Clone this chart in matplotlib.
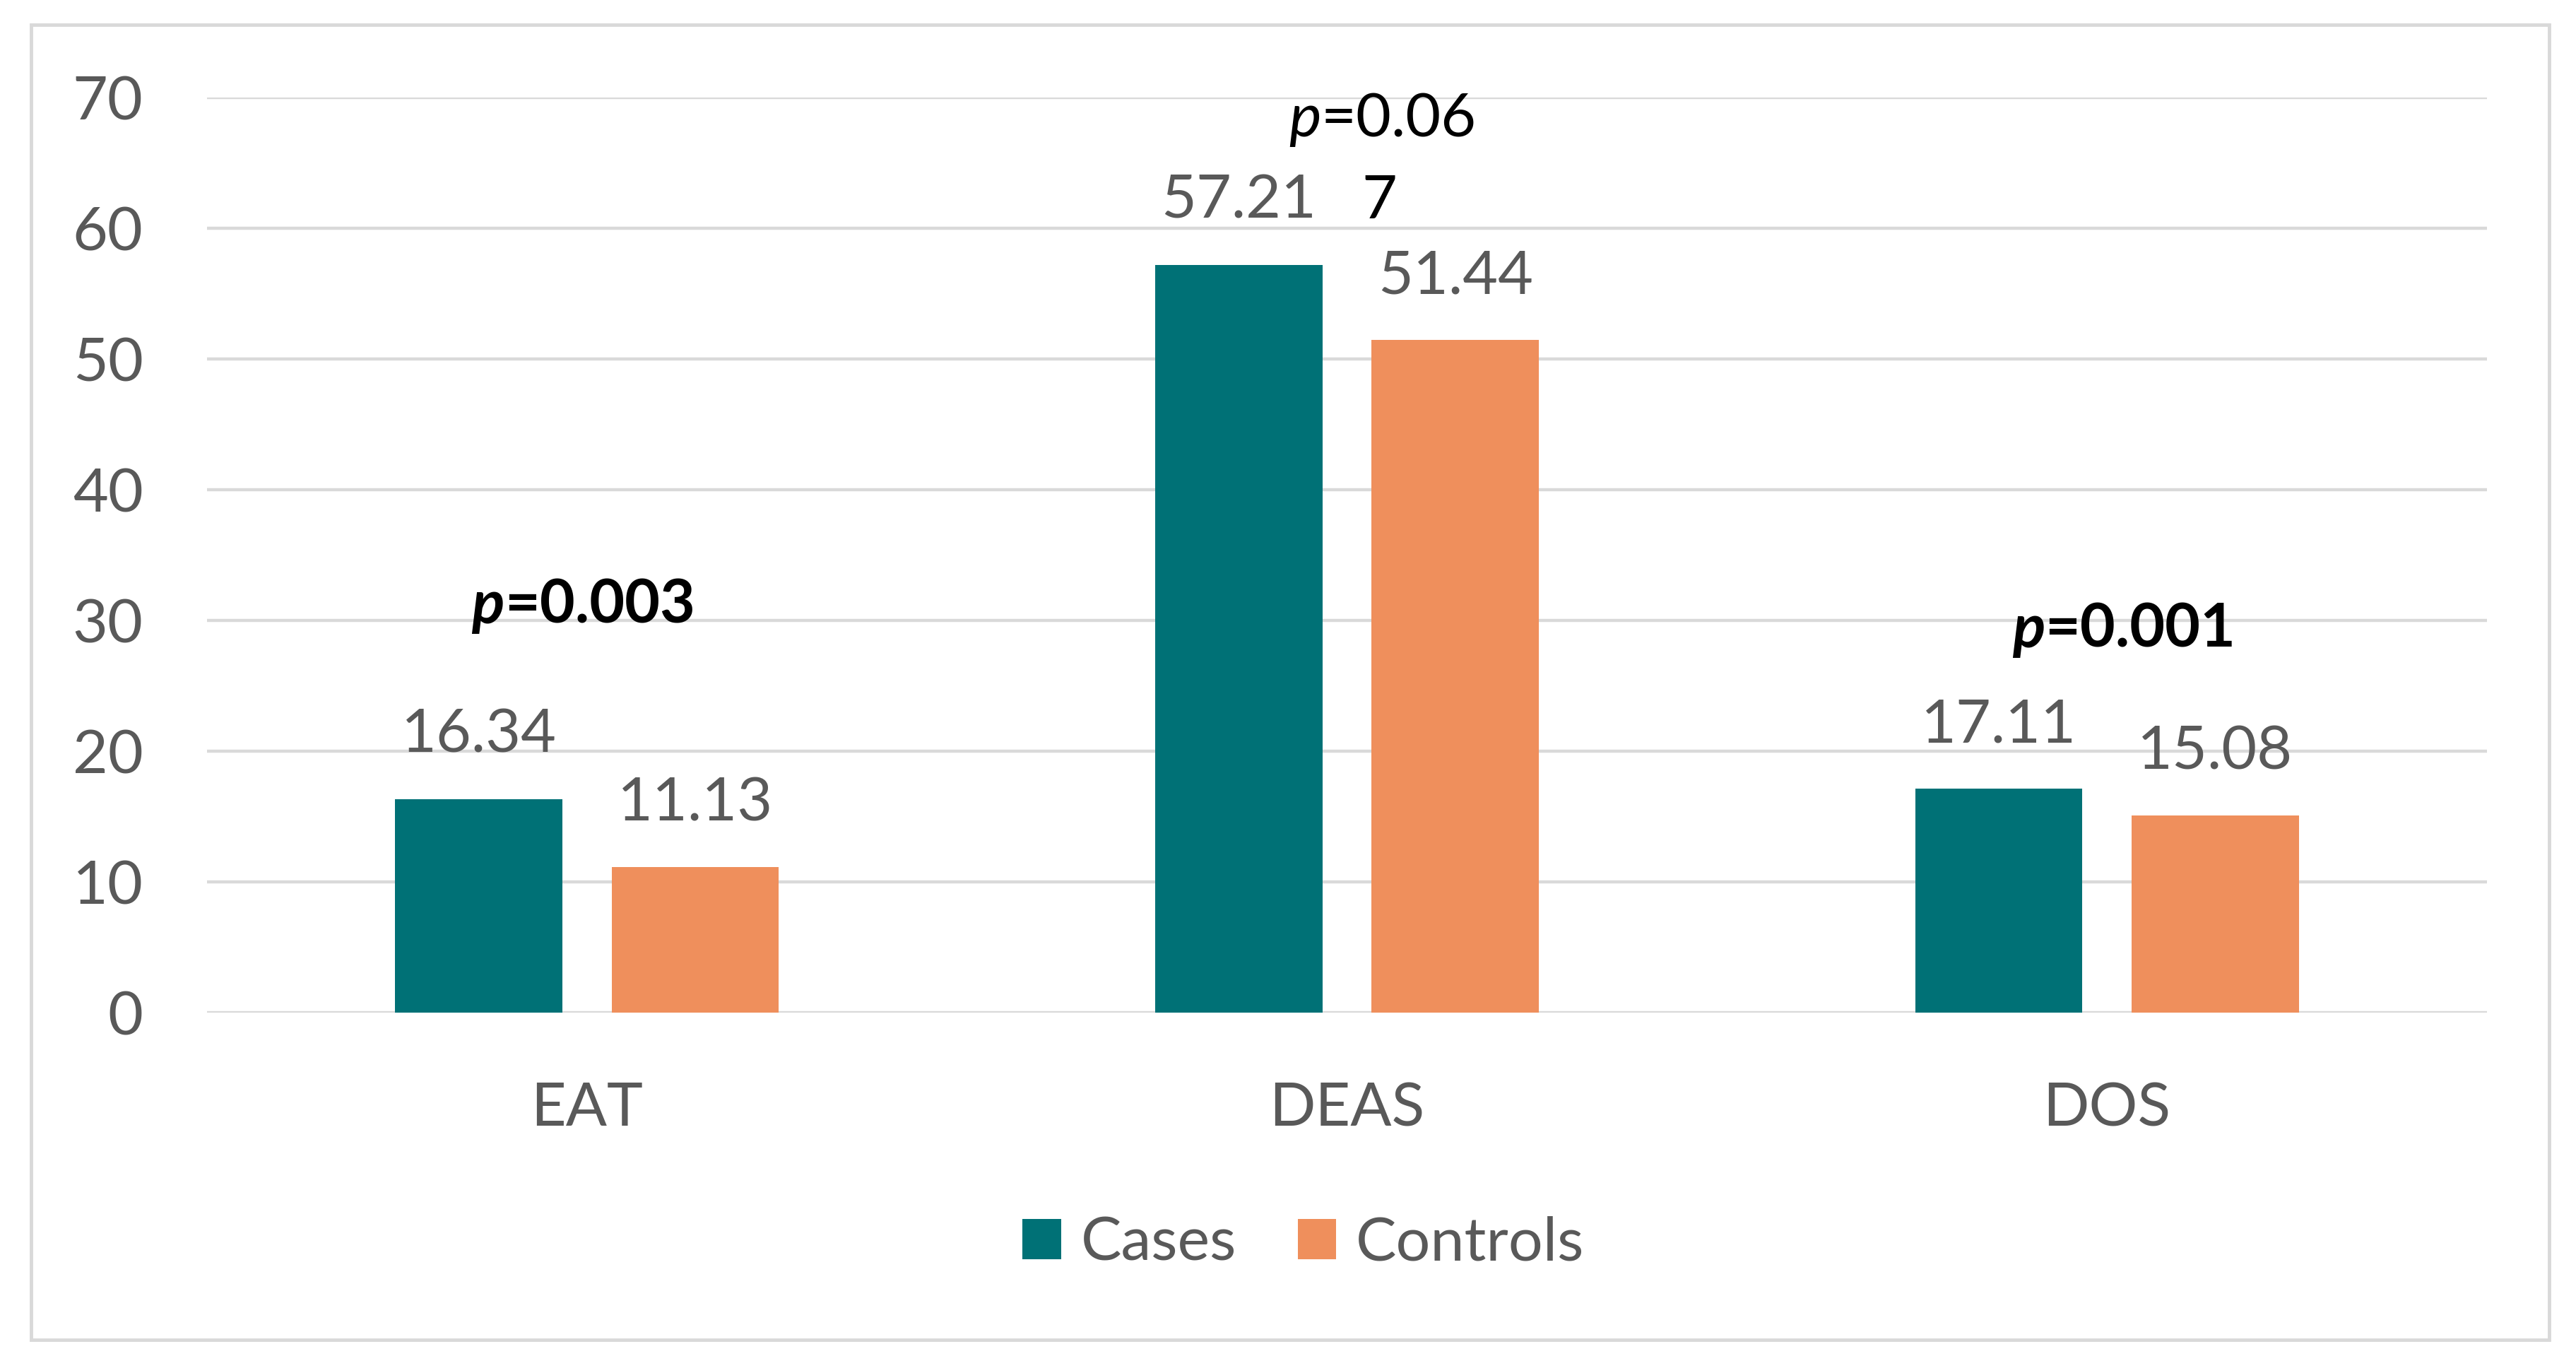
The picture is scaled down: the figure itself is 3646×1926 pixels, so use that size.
import matplotlib
matplotlib.use("Agg")
import matplotlib.pyplot as plt
import numpy as np
from matplotlib.patches import Rectangle

# ---- data ----
categories = ["EAT", "DEAS", "DOS"]
series_names = ["Cases", "Controls"]
cases = [16.34, 57.21, 17.11]
controls = [11.13, 51.44, 15.08]
yticks = [0, 10, 20, 30, 40, 50, 60, 70]
p_values = ["=0.003", "=0.06", "=0.001"]
p_bold = [True, False, True]

# ---- style ----
TEAL = "#007176"
ORANGE = "#EF8F5C"
GRAY_TXT = "#595959"
GRID = "#D9D9D9"
FONT = "Lato"
FS = 62

DPI = 100
W, H = 3646, 1926
fig = plt.figure(figsize=(W / DPI, H / DPI), dpi=DPI)
fig.patch.set_facecolor("white")

# outer border
fig.patches.append(Rectangle((44 / W, 1 - 1896 / H), (3608 - 44) / W, (1896 - 35) / H,
                             transform=fig.transFigure, fill=False,
                             edgecolor=GRID, linewidth=3.5))

ax = fig.add_axes([293 / W, 1 - 1433 / H, (3520 - 293) / W, (1433 - 138) / H])
ax.set_xlim(-0.5, 2.5)
ax.set_ylim(0, 70)

x = np.arange(len(categories))
bw = 0.22
off = 0.1425
b1 = ax.bar(x - off, cases, bw, color=TEAL, label=series_names[0], zorder=3)
b2 = ax.bar(x + off, controls, bw, color=ORANGE, label=series_names[1], zorder=3)

# grid
ax.set_yticks(yticks)
ax.yaxis.grid(True, color=GRID, linewidth=3.2, zorder=0)
ax.set_axisbelow(True)
for s in ax.spines.values():
    s.set_visible(False)
ax.tick_params(axis="y", length=0, pad=65, labelsize=FS, labelcolor=GRAY_TXT)
for t in ax.get_yticklabels():
    t.set_fontfamily(FONT)

# category labels
ax.set_xticks(x)
ax.set_xticklabels([])
ax.tick_params(axis="x", length=0)
for i, c in enumerate(categories):
    ax.annotate(c, xy=(i, 0), xycoords=("data", "axes fraction"),
                xytext=(0, -160), textcoords="offset pixels",
                ha="center", va="baseline", fontsize=FS, color=GRAY_TXT,
                fontfamily=FONT)

# data labels
for bars, vals in ((b1, cases), (b2, controls)):
    for rect, v in zip(bars, vals):
        ax.annotate(f"{v:.2f}", xy=(rect.get_x() + rect.get_width() / 2, v),
                    xytext=(0, 66), textcoords="offset pixels",
                    ha="center", va="baseline", fontsize=FS, color=GRAY_TXT,
                    fontfamily=FONT)

# stray "7" from wrapped p-value label over DEAS
ax.annotate("7", xy=(1 + 1953 / 1076 - 1907 / 1076, 57.21), xytext=(0, 66),
            textcoords="offset pixels", ha="center", va="baseline",
            fontsize=FS, color="black", fontfamily=FONT)

# p-value annotations: anchor at boundary between italic "p" and "=..."
p_anchor_px = [(714, 882), (1870, 193), (2895, 916)]
for (px, py), txt, bold in zip(p_anchor_px, p_values, p_bold):
    xd = (px - 293) / 1076 - 0.5
    yd = (1433 - py) / ((1433 - 138) / 70)
    w = "bold" if bold else "normal"
    ax.text(xd, yd, "p", ha="right", va="baseline", fontsize=FS, style="italic",
            fontweight=w, color="black", fontfamily=FONT)
    ax.text(xd, yd, txt, ha="left", va="baseline", fontsize=FS,
            fontweight=w, color="black", fontfamily=FONT)

# legend
leg = fig.legend(handles=[b1, b2], labels=series_names, loc="center",
                 bbox_to_anchor=(1845 / W, 1 - 1760 / H), ncol=2, frameon=False,
                 prop={"family": FONT, "size": FS}, handlelength=0.63,
                 handleheight=0.64, handletextpad=0.33, columnspacing=1.0,
                 borderpad=0)
for t in leg.get_texts():
    t.set_color(GRAY_TXT)

fig.savefig("out.png", dpi=DPI, facecolor="white")
